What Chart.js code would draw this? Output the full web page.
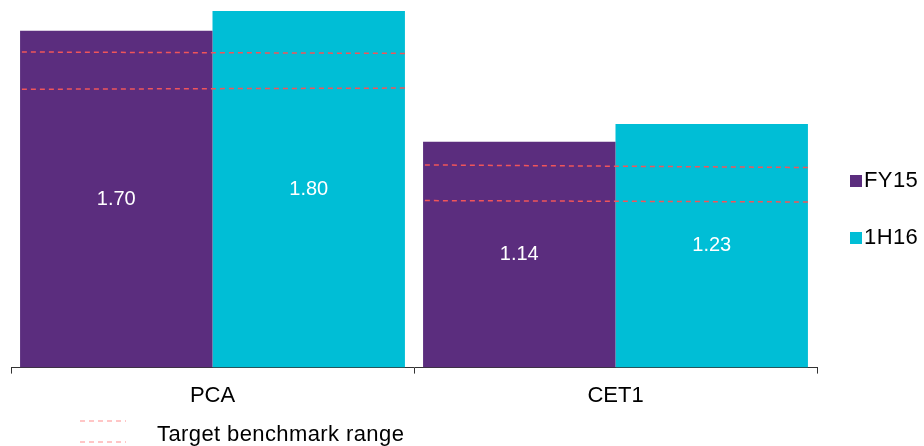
<!DOCTYPE html>
<html>
<head>
<meta charset="utf-8">
<script src="https://cdn.jsdelivr.net/npm/chart.js@4/dist/chart.umd.min.js"></script>
<style>
  html, body { margin: 0; padding: 0; background: #fff; }
  #wrap { position: relative; width: 924px; height: 446px; font-family: "Liberation Sans", Arial, sans-serif; color: #000; }
  #chart { position: absolute; left: 0; top: 0; }
  .lg { position: absolute; font-size: 22px; line-height: 24px; letter-spacing: 0.4px; white-space: nowrap; }
  .sw { position: absolute; width: 12px; height: 12px; }
</style>
</head>
<body>
<div id="wrap">
  <canvas id="chart" width="924" height="446"></canvas>
  <div class="sw" id="sw0" style="left:850px; top:175px;"></div>
  <div class="lg" id="lg0" style="left:864px; top:168px;"></div>
  <div class="sw" id="sw1" style="left:850px; top:232px;"></div>
  <div class="lg" id="lg1" style="left:864px; top:225px;"></div>
  <svg style="position:absolute; left:78px; top:414px;" width="52" height="32">
    <line id="bl0" x1="2" y1="7" x2="48" y2="7" stroke-width="1.2" stroke-dasharray="5,4"/>
    <line id="bl1" x1="2" y1="28" x2="48" y2="28" stroke-width="1.2" stroke-dasharray="5,4"/>
  </svg>
  <div class="lg" id="lgB" style="left:157px; top:422px;"></div>
</div>
<script>
// categories and series
const categories = ['PCA', 'CET1'];
const seriesNames = ['FY15', '1H16'];
const fy15 = [1.70, 1.14];
const h116 = [1.80, 1.23];

// target benchmark range: start/end value of each dashed segment, per category
const benchHigh = [[1.593, 1.586], [1.023, 1.010]];
const benchLow = [[1.405, 1.411], [0.843, 0.836]];
const benchReach = [-0.473, 0.478]; // segment extent around the category centre
const benchLabel = 'Target benchmark range';

const colors = ['#5B2D7E', '#00BED6'];
const benchColor = '#F0555A';

document.getElementById('sw0').style.background = colors[0];
document.getElementById('sw1').style.background = colors[1];
document.getElementById('lg0').textContent = seriesNames[0];
document.getElementById('lg1').textContent = seriesNames[1];
document.getElementById('lgB').textContent = benchLabel;
document.getElementById('bl0').setAttribute('stroke', '#FF8E8E');
document.getElementById('bl1').setAttribute('stroke', '#FF8E8E');

// bars and lines all sit on one hidden linear x scale, the category axis only draws ticks/labels
function barSet(name, vals, color) {
  return {
    type: 'bar', label: name, xAxisID: 'xv',
    data: vals.map((v, i) => ({ x: i, y: v })),
    backgroundColor: color, categoryPercentage: 0.955, barPercentage: 1, order: 1
  };
}

function benchSet(vals) {
  return vals.map((v, i) => ({
    type: 'line',
    xAxisID: 'xv',
    data: [{ x: i + benchReach[0], y: v[0] }, { x: i + benchReach[1], y: v[1] }],
    borderColor: benchColor,
    borderWidth: 1.5,
    borderDash: [5, 4],
    pointRadius: 0,
    fill: false,
    order: 0
  }));
}

const valueLabels = {
  id: 'valueLabels',
  afterDatasetsDraw(chart) {
    const ctx = chart.ctx;
    ctx.save();
    ctx.fillStyle = '#fff';
    ctx.font = '20px "Liberation Sans", Arial, sans-serif';
    ctx.textAlign = 'center';
    ctx.textBaseline = 'middle';
    chart.data.datasets.forEach((ds, di) => {
      if (ds.type !== 'bar') return;
      chart.getDatasetMeta(di).data.forEach((bar, i) => {
        ctx.fillText(ds.data[i].y.toFixed(2), bar.x, (bar.y + bar.base) / 2);
      });
    });
    ctx.restore();
  }
};

new Chart(document.getElementById('chart'), {
  type: 'bar',
  data: {
    labels: categories,
    datasets: [
      barSet(seriesNames[0], fy15, colors[0]),
      barSet(seriesNames[1], h116, colors[1]),
      ...benchSet(benchHigh),
      ...benchSet(benchLow)
    ]
  },
  options: {
    responsive: false,
    animation: false,
    layout: { padding: { left: 11, right: 107, top: 11, bottom: 28 } },
    plugins: { legend: { display: false }, tooltip: { enabled: false } },
    scales: {
      x: {
        type: 'category',
        offset: true,
        grid: { offset: true, drawOnChartArea: false, tickLength: 6, color: '#333' },
        border: { color: '#333', width: 1 },
        ticks: { color: '#000', padding: 9, font: { family: '"Liberation Sans", Arial, sans-serif', size: 22 } }
      },
      xv: {
        type: 'linear', min: -0.5, max: 1.5, offset: false, display: false,
        afterBuildTicks: s => { s.ticks = categories.map((_, i) => ({ value: i })); }
      },
      y: { min: 0, max: 1.8, display: false }
    }
  },
  plugins: [valueLabels]
});
</script>
</body>
</html>
